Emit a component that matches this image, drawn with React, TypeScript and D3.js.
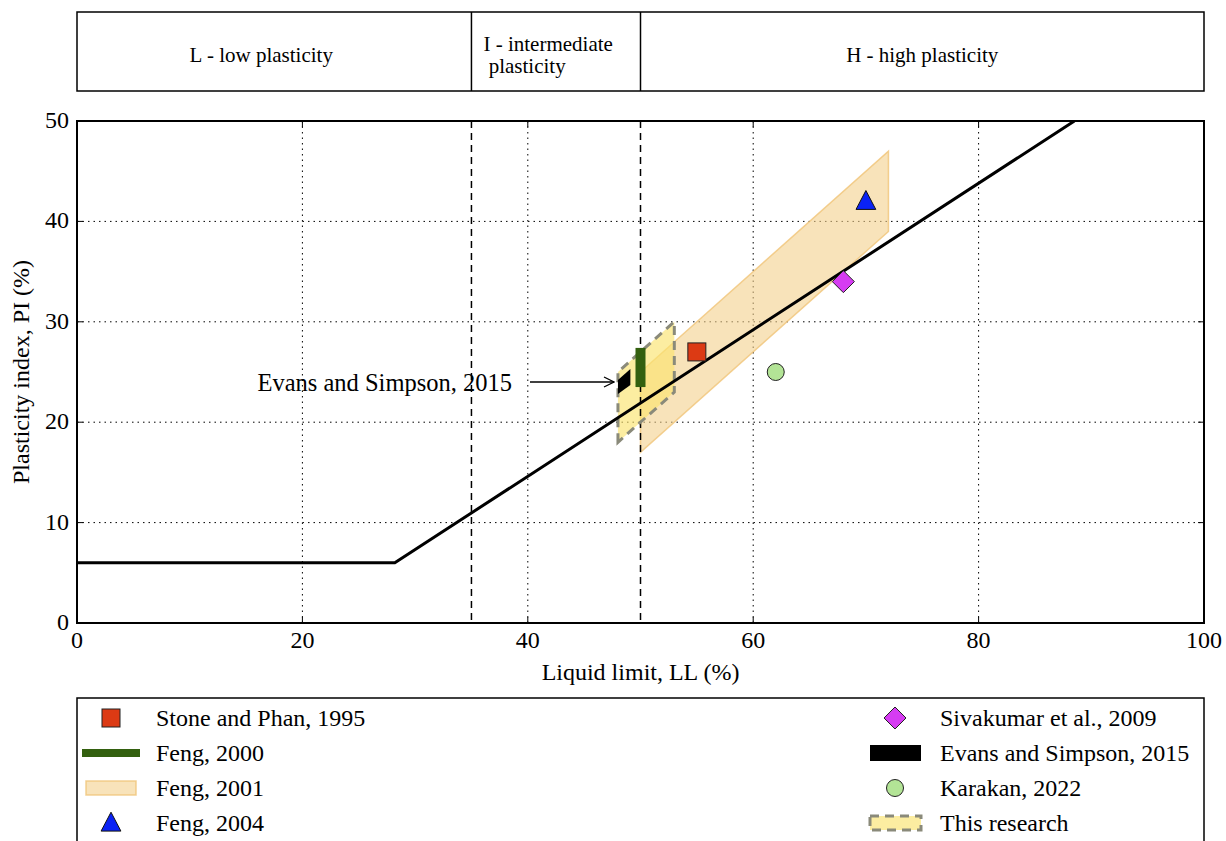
import React from "react";
import * as d3 from "d3";

const xTicks = [0, 20, 40, 60, 80, 100];
const yTicks = [0, 10, 20, 30, 40, 50];
const aLine = [[0, 6], [28.2, 6], [88.5, 50]];
const zoneBounds = [35, 50];
const zoneLabels = [
  { lines: ["L - low plasticity"], from: 0, to: 32.7, align: "middle" },
  { lines: ["I - intermediate", " plasticity"], from: 35, to: 50, align: "start" },
  { lines: ["H - high plasticity"], from: 50, to: 100, align: "middle" },
];
const feng2001 = [[50, 17], [50, 25], [72, 47], [72, 39]];
const thisResearch = [[48, 18], [48, 25], [53, 30], [53, 23]];
const evans2015 = [[48, 22.8], [48, 24.2], [49.1, 25.3], [49.1, 23.7]];
const feng2000 = { ll: 50, pi: [23.5, 27.4] };
const stone1995 = [55, 27];
const feng2004 = [70, 42];
const sivakumar2009 = [68, 34];
const karakan2022 = [62, 25];
const legendLeft = ["Stone and Phan, 1995", "Feng, 2000", "Feng, 2001", "Feng, 2004"];
const legendRight = ["Sivakumar et al., 2009", "Evans and Simpson, 2015", "Karakan, 2022", "This research"];

const FONT = "'Liberation Serif', 'Times New Roman', serif";
const RED = "#dc3a14";
const GREEN = "#33600f";
const BLUE = "#0a22f5";
const MAGENTA = "#d63cf2";
const LGREEN = "#b3e496";
const BAND_FILL = "rgba(243,208,140,0.6)";
const BAND_STROKE = "rgba(240,196,120,0.8)";
const YEL_FILL = "rgba(250,228,110,0.65)";

export default function App() {
  const x = d3.scaleLinear().domain([0, 100]).range([77, 1204]);
  const y = d3.scaleLinear().domain([0, 50]).range([623, 121]);
  const line = d3.line<number[]>().x((d) => x(d[0])).y((d) => y(d[1]));
  const poly = (pts: number[][]) => line(pts) + "Z";
  const [x0, x1] = x.range();
  const [y0, y1] = y.range();

  const square = (cx: number, cy: number, s: number) => (
    <rect x={cx - s / 2} y={cy - s / 2} width={s} height={s} fill={RED} stroke="#222" strokeWidth={1} />
  );
  const triangle = (cx: number, cy: number, s: number) => (
    <path d={`M${cx},${cy - s * 0.6}L${cx + s * 0.55},${cy + s * 0.45}L${cx - s * 0.55},${cy + s * 0.45}Z`} fill={BLUE} stroke="#111" strokeWidth={1} />
  );
  const diamond = (cx: number, cy: number, s: number) => (
    <path d={`M${cx},${cy - s}L${cx + s},${cy}L${cx},${cy + s}L${cx - s},${cy}Z`} fill={MAGENTA} stroke="#222" strokeWidth={1} />
  );
  const circle = (cx: number, cy: number, r: number) => (
    <circle cx={cx} cy={cy} r={r} fill={LGREEN} stroke="#222" strokeWidth={1} />
  );

  const legRowY = [718, 753, 788, 823];
  const FS = 24;

  return (
    <svg width={1226} height={841} style={{ position: "absolute", left: 0, top: 0 }} fontFamily={FONT}>
      <rect width={1226} height={841} fill="#fff" />
      <defs>
        <clipPath id="plot">
          <rect x={x0} y={y1} width={x1 - x0} height={y0 - y1} />
        </clipPath>
        <marker id="arr" viewBox="0 0 12 12" refX="11" refY="6" markerWidth="12" markerHeight="12" markerUnits="userSpaceOnUse" orient="auto">
          <path d="M1,1L11,6L1,11" fill="none" stroke="#000" strokeWidth={1.3} />
        </marker>
      </defs>

      {/* Top zone box */}
      <rect x={x0} y={12} width={x1 - x0} height={79} fill="none" stroke="#000" strokeWidth={1.5} />
      {zoneBounds.map((b) => (
        <line key={b} x1={x(b)} x2={x(b)} y1={12} y2={91} stroke="#000" strokeWidth={1.5} />
      ))}
      {zoneLabels.map((z, i) => {
        const tx = z.align === "middle" ? (x(z.from) + x(z.to)) / 2 : x(z.from) + 12;
        return (
          <text key={i} fontSize={21} textAnchor={z.align} x={tx}>
            {z.lines.map((l, j) => (
              <tspan key={j} x={tx} y={z.lines.length === 1 ? 62 : 51 + j * 22} style={{ whiteSpace: "pre" }}>
                {l}
              </tspan>
            ))}
          </text>
        );
      })}

      {/* grid */}
      {xTicks.slice(1, -1).map((t) => (
        <line key={"gx" + t} x1={x(t)} x2={x(t)} y1={y1} y2={y0} stroke="#000" strokeWidth={1} strokeDasharray="1.5,4" />
      ))}
      {yTicks.slice(1, -1).map((t) => (
        <line key={"gy" + t} x1={x0} x2={x1} y1={y(t)} y2={y(t)} stroke="#000" strokeWidth={1} strokeDasharray="1.5,4" />
      ))}

      <g clipPath="url(#plot)">
        <path d={poly(feng2001)} fill={BAND_FILL} stroke={BAND_STROKE} strokeWidth={1.5} />
        <path d={poly(thisResearch)} fill={YEL_FILL} stroke="none" />
        {zoneBounds.map((b) => (
          <line key={"zb" + b} x1={x(b)} x2={x(b)} y1={y1} y2={y0} stroke="#000" strokeWidth={1.5} strokeDasharray="7,5" />
        ))}
        <path d={poly(thisResearch)} fill="none" stroke="#8a8a7a" strokeWidth={3} strokeDasharray="9,6" />
        <path d={line(aLine) || ""} fill="none" stroke="#000" strokeWidth={3} />
        <line x1={x(feng2000.ll)} x2={x(feng2000.ll)} y1={y(feng2000.pi[0])} y2={y(feng2000.pi[1])} stroke={GREEN} strokeWidth={10} />
        <path d={poly(evans2015)} fill="#000" />
        {square(x(stone1995[0]), y(stone1995[1]), 18)}
        {triangle(x(feng2004[0]), y(feng2004[1]), 18)}
        {diamond(x(sivakumar2009[0]), y(sivakumar2009[1]), 11)}
        {circle(x(karakan2022[0]), y(karakan2022[1]), 8.5)}
      </g>

      {/* annotation */}
      <text x={512} y={391} fontSize={24.5} textAnchor="end">Evans and Simpson, 2015</text>
      <line x1={530} x2={614} y1={382} y2={382} stroke="#000" strokeWidth={1.3} markerEnd="url(#arr)" />

      {/* axes frame */}
      <rect x={x0} y={y1} width={x1 - x0} height={y0 - y1} fill="none" stroke="#000" strokeWidth={2} />
      {xTicks.map((t) => (
        <g key={"xt" + t}>
          <line x1={x(t)} x2={x(t)} y1={y0} y2={y0 - 6} stroke="#000" strokeWidth={1} />
          <line x1={x(t)} x2={x(t)} y1={y1} y2={y1 + 6} stroke="#000" strokeWidth={1} />
          <text x={x(t)} y={y0 + 25} fontSize={FS} textAnchor="middle">{t}</text>
        </g>
      ))}
      {yTicks.map((t) => (
        <g key={"yt" + t}>
          <line x1={x0} x2={x0 + 6} y1={y(t)} y2={y(t)} stroke="#000" strokeWidth={1} />
          <line x1={x1} x2={x1 - 6} y1={y(t)} y2={y(t)} stroke="#000" strokeWidth={1} />
          <text x={x0 - 8} y={y(t) + 7} fontSize={FS} textAnchor="end">{t}</text>
        </g>
      ))}
      <text x={(x0 + x1) / 2} y={680} fontSize={FS} textAnchor="middle">Liquid limit, LL (%)</text>
      <text transform={`translate(29,${(y0 + y1) / 2}) rotate(-90)`} fontSize={FS} textAnchor="middle">Plasticity index, PI (%)</text>

      {/* legend */}
      <rect x={x0} y={698} width={x1 - x0} height={160} fill="#fff" stroke="#000" strokeWidth={1.5} />
      {square(111, legRowY[0], 18)}
      <line x1={82} x2={140} y1={legRowY[1]} y2={legRowY[1]} stroke={GREEN} strokeWidth={8} />
      <rect x={86} y={legRowY[2] - 7} width={50} height={14} fill={BAND_FILL} stroke={BAND_STROKE} strokeWidth={1.5} />
      {triangle(111, legRowY[3], 18)}
      {legendLeft.map((l, i) => (
        <text key={l} x={156} y={legRowY[i] + 8} fontSize={FS}>{l}</text>
      ))}
      {diamond(895, legRowY[0], 11)}
      <rect x={870} y={legRowY[1] - 8} width={51} height={16} fill="#000" />
      {circle(895, legRowY[2], 8.5)}
      <rect x={870} y={legRowY[3] - 7} width={51} height={14} fill={YEL_FILL} stroke="#8a8a7a" strokeWidth={3} strokeDasharray="9,6" />
      {legendRight.map((l, i) => (
        <text key={l} x={940} y={legRowY[i] + 8} fontSize={FS}>{l}</text>
      ))}
    </svg>
  );
}
